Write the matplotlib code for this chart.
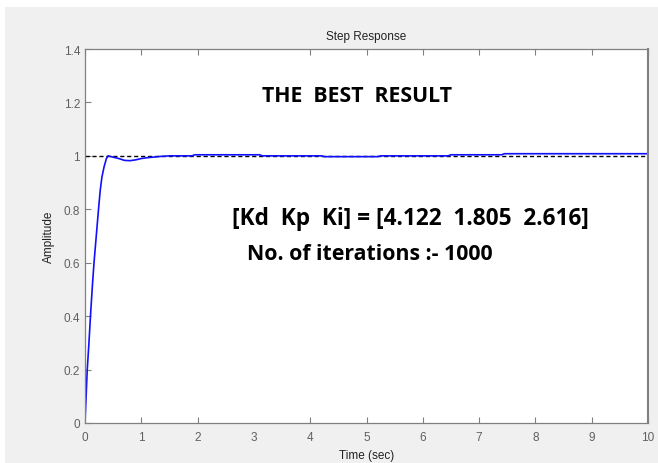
import matplotlib
matplotlib.use("Agg")
import matplotlib.pyplot as plt

# step response data
t = [0, 0.02, 0.04, 0.07, 0.1, 0.13, 0.16, 0.2, 0.24, 0.27, 0.3, 0.34, 0.38, 0.41,
     0.5, 0.6, 0.7, 0.8, 0.9, 1.0, 1.1, 1.2, 1.35, 1.5, 1.9, 1.95, 3.1, 3.15,
     4.2, 4.25, 5.2, 5.25, 6.45, 6.5, 7.4, 7.45, 10]
y = [0, 0.1, 0.2, 0.3, 0.41, 0.51, 0.6, 0.7, 0.8, 0.87, 0.92, 0.96, 0.99, 1.0,
     0.995, 0.99, 0.983, 0.982, 0.985, 0.99, 0.993, 0.995, 0.998, 1.0, 1.0, 1.004, 1.004, 1.0,
     1.0, 0.997, 0.997, 1.0, 1.0, 1.004, 1.004, 1.008, 1.008]
ref_t = [0, 10]
ref_y = [1, 1]
xticks = [0, 1, 2, 3, 4, 5, 6, 7, 8, 9, 10]
yticks = [0, 0.2, 0.4, 0.6, 0.8, 1.0, 1.2, 1.4]
ytick_labels = ["0", "0.2", "0.4", "0.6", "0.8", "1", "1.2", "1.4"]

plt.rcParams["font.family"] = ["Liberation Sans", "DejaVu Sans"]

fig = plt.figure(figsize=(6.58, 4.64), dpi=100, facecolor="white")
bg = fig.add_axes([5/658, 0, 1, 1 - 8/464])
bg.set_facecolor("#f0f0f0")
bg.set_xticks([]); bg.set_yticks([])
for s in bg.spines.values():
    s.set_visible(False)
bg.set_zorder(-10)

ax = fig.add_axes([85/658, 1 - 424/464, (648-85)/658, (424-50)/464])
ax.set_facecolor("white")
ax.plot(ref_t, ref_y, color="black", linestyle=(0, (3, 2)), linewidth=1.0)
ax.plot(t, y, color="#1010ff", linewidth=1.2)
ax.set_xlim(0, 10)
ax.set_ylim(0, 1.4)
ax.set_xticks(xticks)
ax.set_xticklabels([str(v) for v in xticks])
ax.set_yticks(yticks)
ax.set_yticklabels(ytick_labels)
ax.tick_params(direction="in", length=4, top=True, right=False, colors="#808080",
               labelcolor="#606060", labelsize=8.5, width=0.8)
ax.tick_params(axis="x", pad=6)
tk = ax.xaxis.get_major_ticks()[3]
tk.tick1line.set_visible(False)
tk.tick2line.set_visible(False)
for s in ax.spines.values():
    s.set_color("#808080")
    s.set_linewidth(0.9)
ax.spines["right"].set_linewidth(1.5)
ax.set_title("Step Response", fontsize=8.5, color="#222222", pad=7)
ax.set_xlabel("Time (sec)", fontsize=8.5, color="#222222", labelpad=4)
ax.set_ylabel("Amplitude", fontsize=8.5, color="#222222", labelpad=6)

fig.text(357/658, 1 - 96/464, "THE  BEST  RESULT", family="Open Sans", weight="bold",
         fontsize=15.3, ha="center", va="center", color="black")
fig.text(232/658, 1 - 219/464, "[Kd  Kp  Ki] = [4.122  1.805  2.616]", family="Open Sans",
         weight="bold", fontsize=16.3, ha="left", va="center", color="black")
fig.text(247/658, 1 - 254/464, "No. of iterations :- 1000", family="Open Sans",
         weight="bold", fontsize=15.3, ha="left", va="center", color="black")

fig.savefig("out.png", dpi=100, facecolor="white")
